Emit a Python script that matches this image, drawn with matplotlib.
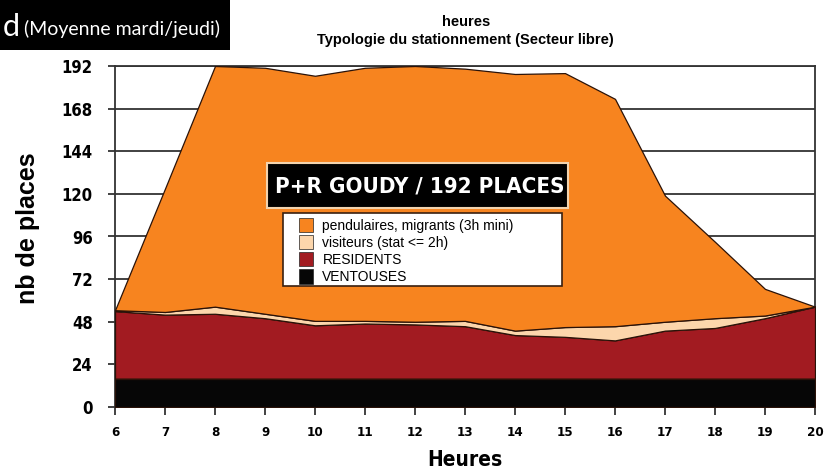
import matplotlib
matplotlib.use("Agg")
import matplotlib.pyplot as plt
from matplotlib import font_manager
from matplotlib.patches import Patch, Rectangle

# data (places occupied, stacked)
heures = [6, 7, 8, 9, 10, 11, 12, 13, 14, 15, 16, 17, 18, 19, 20]
ventouses = [16, 16, 16, 16, 16, 16, 16, 16, 16, 16, 16, 16, 16, 16, 16]
residents = [38, 36, 36.5, 34, 30, 31, 30.5, 29.5, 24.5, 23.5, 21.5, 27, 28.5, 34, 40.5]
visiteurs = [0.5, 1.5, 4, 2.5, 2.5, 1.5, 1.5, 3, 2.5, 5.5, 8, 5, 5.5, 1.5, 0]
pendulaires = [0, 69.5, 135.5, 138.5, 138, 142.5, 144, 142, 144.5, 143, 128, 71, 43, 15, 0]

y_ticks = [0, 24, 48, 72, 96, 120, 144, 168, 192]
legend_labels = ["pendulaires, migrants (3h mini)", "visiteurs (stat <= 2h)",
                 "RESIDENTS", "VENTOUSES"]

c_orange = "#F7841F"
c_beige = "#FCD6AC"
c_red = "#A21B21"
c_black = "#060606"

# look for a condensed bold face, else plain Liberation Sans
narrow = {"family": "Liberation Sans", "weight": "bold"}
for f in font_manager.fontManager.ttflist:
    if f.stretch in ("condensed", "semi-condensed") or "Narrow" in f.name or "Condensed" in f.name:
        if f.weight in (700, "bold"):
            narrow = {"fname": f.fname}
            break

def nprop(size):
    if "fname" in narrow:
        return font_manager.FontProperties(fname=narrow["fname"], size=size)
    return font_manager.FontProperties(family=narrow["family"], weight="bold", size=size)

W, H = 836, 473
def fx(x):
    return x / W
def fy(y):
    return 1 - y / H

fig = plt.figure(figsize=(8.36, 4.73), dpi=100, facecolor="white")
ax = fig.add_axes([fx(115), fy(407), fx(815) - fx(115), fy(66) - fy(407)])

ax.stackplot(heures, ventouses, residents, visiteurs, pendulaires,
             colors=[c_black, c_red, c_beige, c_orange],
             edgecolor="#2a1208", linewidth=0.9, zorder=3)

ax.set_xlim(6, 20)
ax.set_ylim(0, 192)
ax.set_xticks(heures)
ax.set_yticks(y_ticks)
ax.yaxis.grid(True, color="#333333", linewidth=1.3, zorder=1)
ax.set_axisbelow(True)
for s in ax.spines.values():
    s.set_color("#333333")
    s.set_linewidth(1.3)
ax.tick_params(axis="y", length=5, width=1.3, color="#333333", pad=11)
ax.tick_params(axis="x", length=6, width=1.3, color="#333333", pad=8)
for lab in ax.get_yticklabels():
    lab.set_fontproperties(nprop(12))
for lab in ax.get_xticklabels():
    lab.set_fontproperties(nprop(9.5))

fig.text(fx(465), fy(460), "Heures", ha="center", va="center", fontproperties=nprop(15))
fig.text(fx(28), fy(228), "nb de places", ha="center", va="center",
         rotation=90, family="Liberation Sans", weight="bold", fontsize=18)

# titles on top
fig.text(fx(466), fy(22), "heures", ha="center", va="center",
         family="Liberation Sans", weight="bold", fontsize=10.5)
fig.text(fx(465), fy(40), "Typologie du stationnement (Secteur libre)", ha="center",
         va="center", family="Liberation Sans", weight="bold", fontsize=10.5)

# black box top-left
fig.patches.append(Rectangle((0, fy(50)), fx(230), 1 - fy(50), transform=fig.transFigure,
                             facecolor="black", edgecolor="none", zorder=0))
fig.text(fx(3), fy(27), "d", ha="left", va="center", color="white",
         family="Lato", fontsize=22, zorder=2)
fig.text(fx(24), fy(29), "(Moyenne mardi/jeudi)", ha="left", va="center", color="white",
         family="Lato", fontsize=14, zorder=2)

# P+R box
fig.patches.append(Rectangle((fx(267), fy(208)), fx(568) - fx(267), fy(163) - fy(208),
                             transform=fig.transFigure, facecolor="black",
                             edgecolor="#F2D3AE", linewidth=1.5, zorder=5))
fig.text(fx(420), fy(186), "P+R GOUDY / 192 PLACES", ha="center", va="center",
         color="white", fontproperties=nprop(16), zorder=6)

# legend box
fig.patches.append(Rectangle((fx(283), fy(286)), fx(562) - fx(283), fy(213) - fy(286),
                             transform=fig.transFigure, facecolor="white",
                             edgecolor="#3a2010", linewidth=1.2, zorder=5))
handles = [Patch(facecolor=c, edgecolor="#222222", linewidth=0.5)
           for c in [c_orange, c_beige, c_red, c_black]]
leg = fig.legend(handles, legend_labels, loc="upper left",
                 bbox_to_anchor=(fx(296), fy(215)), frameon=False,
                 prop={"family": "Liberation Sans", "size": 10},
                 handlelength=1.0, handleheight=1.2, handletextpad=0.7,
                 labelspacing=0.17, borderpad=0.2, borderaxespad=0)
leg.set_zorder(6)

fig.savefig("out.png", dpi=100)
